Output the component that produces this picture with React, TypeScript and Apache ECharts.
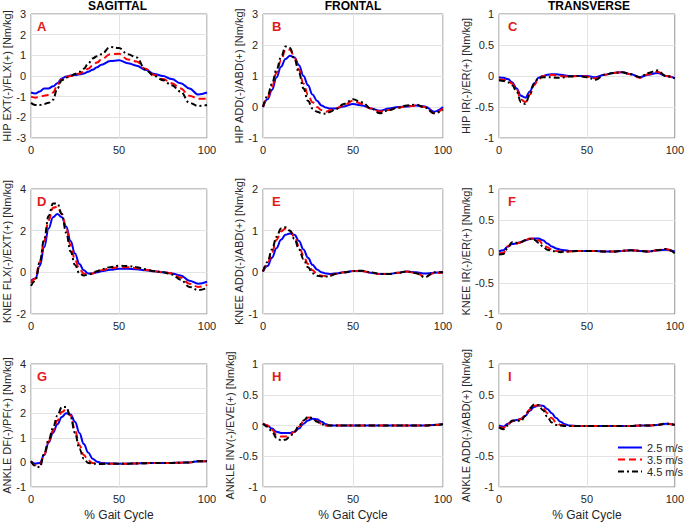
import React, { useEffect, useRef } from "react";
import * as echarts from "echarts";

const X = [0, 2.5, 5, 7.5, 10, 12.5, 15, 17.5, 20, 22.5, 25, 27.5, 30, 32.5, 35, 37.5, 40, 45, 50, 55, 60, 65, 70, 75, 80, 85, 90, 95, 100];
const SPEEDS = ["2.5 m/s", "3.5 m/s", "4.5 m/s"];
const COLUMN_TITLES = ["SAGITTAL", "FRONTAL", "TRANSVERSE"];
const LETTERS = ["A", "B", "C", "D", "E", "F", "G", "H", "I"];
const Y_NAMES = [
  "HIP EXT(-)/FLX(+) [Nm/kg]",
  "HIP ADD(-)/ABD(+) [Nm/kg]",
  "HIP IR(-)/ER(+) [Nm/kg]",
  "KNEE FLX(-)/EXT(+) [Nm/kg]",
  "KNEE ADD(-)/ABD(+) [Nm/kg]",
  "KNEE IR(-)/ER(+) [Nm/kg]",
  "ANKLE DF(-)/PF(+) [Nm/kg]",
  "ANKLE INV(-)/EVE(+) [Nm/kg]",
  "ANKLE ADD(-)/ABD(+) [Nm/kg]",
];
const Y_MIN = [-3, -1, -1, -2, -1, -1, -1, -1, -1];
const Y_MAX = [3, 3, 1, 4, 2, 1, 4, 1, 1];
const Y_STEP = [1, 1, 0.5, 2, 1, 0.5, 1, 0.5, 0.5];
const X_NAME = "% Gait Cycle";

// A: hip sagittal
const A_25 = [-0.8, -0.85, -0.75, -0.6, -0.6, -0.5, -0.35, -0.12, -0.03, 0.02, 0.05, 0.08, 0.12, 0.2, 0.3, 0.42, 0.55, 0.72, 0.76, 0.62, 0.5, 0.3, 0.1, 0.0, -0.15, -0.35, -0.6, -0.9, -0.8];
const A_35 = [-1.0, -1.05, -1.0, -0.95, -0.92, -0.8, -0.45, -0.15, -0.05, 0.0, 0.05, 0.12, 0.2, 0.35, 0.5, 0.65, 0.8, 1.05, 1.08, 0.8, 0.7, 0.35, 0.05, -0.15, -0.35, -0.6, -0.95, -1.1, -1.1];
const A_45 = [-1.3, -1.4, -1.4, -1.35, -1.3, -1.15, -0.6, -0.2, -0.08, 0.0, 0.1, 0.2, 0.35, 0.6, 0.85, 0.95, 1.05, 1.4, 1.35, 1.05, 0.9, 0.3, 0.0, -0.2, -0.45, -0.75, -1.3, -1.45, -1.4];
// B: hip frontal
const B_25 = [0, 0.25, 0.55, 0.95, 1.3, 1.55, 1.65, 1.6, 1.35, 1.0, 0.7, 0.4, 0.2, 0.05, -0.02, -0.05, -0.05, 0.02, 0.1, 0.05, -0.05, -0.12, -0.05, 0.0, 0.02, 0.05, 0.02, -0.15, 0.0];
const B_35 = [0, 0.3, 0.65, 1.1, 1.5, 1.85, 1.85, 1.6, 1.2, 0.75, 0.4, 0.15, 0.0, -0.1, -0.15, -0.1, -0.05, 0.05, 0.2, 0.1, -0.05, -0.15, -0.1, -0.02, 0.02, 0.05, 0.0, -0.2, -0.05];
const B_45 = [0, 0.35, 0.75, 1.2, 1.6, 1.95, 1.9, 1.55, 1.1, 0.6, 0.2, -0.05, -0.15, -0.2, -0.22, -0.15, -0.08, 0.1, 0.25, 0.15, -0.05, -0.2, -0.1, -0.02, 0.05, 0.08, -0.02, -0.2, -0.1];
// C: hip transverse
const C_25 = [-0.02, -0.03, -0.05, -0.1, -0.2, -0.32, -0.35, -0.25, -0.12, -0.03, 0.0, 0.02, 0.03, 0.03, 0.02, 0.01, 0.0, 0.0, 0.0, -0.02, 0.02, 0.05, 0.06, 0.03, -0.02, 0.02, 0.05, 0.0, -0.03];
const C_35 = [-0.05, -0.06, -0.08, -0.12, -0.22, -0.38, -0.42, -0.3, -0.15, -0.05, 0.0, 0.01, 0.02, 0.01, 0.0, -0.01, -0.01, 0.0, -0.01, -0.04, 0.02, 0.05, 0.06, 0.03, -0.03, 0.03, 0.07, 0.0, -0.04];
const C_45 = [-0.07, -0.08, -0.1, -0.15, -0.25, -0.42, -0.45, -0.3, -0.12, -0.03, -0.02, -0.02, -0.02, -0.03, -0.03, -0.02, -0.01, 0.0, -0.02, -0.06, 0.02, 0.05, 0.06, 0.03, -0.02, 0.05, 0.09, 0.0, -0.04];
// D: knee sagittal
const D_25 = [-0.4, -0.3, 0.3, 1.2, 2.1, 2.65, 2.8, 2.65, 2.2, 1.5, 0.9, 0.4, 0.1, -0.05, -0.05, 0.0, 0.05, 0.12, 0.17, 0.17, 0.15, 0.1, 0.05, 0.0, -0.05, -0.15, -0.4, -0.55, -0.45];
const D_35 = [-0.5, -0.3, 0.5, 1.5, 2.5, 3.1, 3.15, 2.8, 2.1, 1.3, 0.6, 0.15, -0.05, -0.1, -0.05, 0.05, 0.1, 0.2, 0.25, 0.25, 0.2, 0.12, 0.05, 0.0, -0.05, -0.25, -0.55, -0.7, -0.6];
const D_45 = [-0.65, -0.4, 0.5, 1.6, 2.7, 3.3, 3.3, 2.8, 1.9, 1.0, 0.35, -0.05, -0.15, -0.12, -0.05, 0.05, 0.15, 0.25, 0.32, 0.3, 0.25, 0.15, 0.05, 0.0, -0.1, -0.35, -0.7, -0.85, -0.75];
// E: knee frontal
const E_25 = [0.02, 0.15, 0.35, 0.58, 0.78, 0.9, 0.93, 0.9, 0.75, 0.55, 0.35, 0.18, 0.07, 0.0, -0.03, -0.04, -0.03, 0.0, 0.03, 0.03, -0.01, -0.04, -0.04, -0.01, 0.02, 0.0, -0.03, -0.01, 0.0];
const E_35 = [0.02, 0.2, 0.48, 0.78, 0.98, 1.05, 1.0, 0.85, 0.62, 0.4, 0.2, 0.05, -0.04, -0.08, -0.09, -0.07, -0.04, 0.0, 0.03, 0.03, -0.01, -0.04, -0.04, -0.01, 0.02, -0.02, -0.1, -0.02, 0.0];
const E_45 = [0.02, 0.25, 0.55, 0.85, 1.05, 1.08, 1.0, 0.8, 0.55, 0.32, 0.12, -0.02, -0.08, -0.1, -0.1, -0.08, -0.04, 0.0, 0.03, 0.04, 0.0, -0.04, -0.04, -0.01, 0.02, -0.02, -0.12, 0.0, 0.0];
// F: knee transverse
const F_25 = [0.0, 0.02, 0.08, 0.12, 0.13, 0.15, 0.18, 0.2, 0.21, 0.21, 0.18, 0.13, 0.08, 0.05, 0.03, 0.02, 0.01, 0.01, 0.01, 0.01, 0.0, 0.0, 0.01, 0.02, 0.01, 0.0, 0.02, 0.03, 0.0];
const F_35 = [-0.03, -0.02, 0.08, 0.14, 0.13, 0.15, 0.18, 0.21, 0.21, 0.18, 0.12, 0.07, 0.03, 0.01, 0.0, 0.0, 0.0, 0.01, 0.01, 0.01, 0.0, 0.0, 0.01, 0.02, 0.01, 0.0, 0.02, 0.04, -0.02];
const F_45 = [-0.05, -0.04, 0.06, 0.15, 0.14, 0.15, 0.18, 0.2, 0.19, 0.14, 0.08, 0.03, 0.01, 0.0, -0.01, 0.0, 0.0, 0.01, 0.01, 0.01, 0.0, 0.0, 0.01, 0.02, 0.01, 0.0, 0.02, 0.04, -0.03];
// G: ankle sagittal
const G_25 = [0.05, -0.05, -0.02, 0.3, 0.8, 1.2, 1.55, 1.85, 2.0, 1.95, 1.65, 1.2, 0.75, 0.4, 0.15, 0.03, -0.02, -0.04, -0.05, -0.05, -0.04, -0.03, -0.02, -0.02, -0.02, -0.01, 0.0, 0.05, 0.05];
const G_35 = [0.05, -0.12, -0.1, 0.3, 0.85, 1.3, 1.7, 2.05, 2.15, 1.9, 1.3, 0.7, 0.3, 0.08, -0.02, -0.05, -0.05, -0.05, -0.05, -0.05, -0.04, -0.03, -0.02, -0.02, -0.02, -0.01, 0.0, 0.05, 0.05];
const G_45 = [0.05, -0.15, -0.2, 0.35, 0.9, 1.4, 1.9, 2.25, 2.25, 1.85, 1.2, 0.55, 0.15, -0.02, -0.05, -0.06, -0.06, -0.05, -0.05, -0.05, -0.04, -0.03, -0.02, -0.02, -0.02, -0.01, 0.0, 0.05, 0.05];
// H: ankle frontal
const H_25 = [0.03, 0.0, -0.05, -0.1, -0.12, -0.12, -0.12, -0.1, -0.05, 0.03, 0.08, 0.11, 0.1, 0.06, 0.02, 0.0, 0.0, 0.0, 0.0, 0.0, 0.0, 0.0, 0.0, 0.0, 0.0, 0.0, 0.0, 0.01, 0.02];
const H_35 = [0.03, 0.0, -0.07, -0.15, -0.18, -0.18, -0.15, -0.1, -0.02, 0.07, 0.13, 0.12, 0.07, 0.03, 0.0, 0.0, 0.0, 0.0, 0.0, 0.0, 0.0, 0.0, 0.0, 0.0, 0.0, 0.0, 0.0, 0.01, 0.02];
const H_45 = [0.03, -0.02, -0.1, -0.2, -0.24, -0.23, -0.18, -0.1, 0.0, 0.08, 0.14, 0.12, 0.06, 0.02, 0.0, 0.0, 0.0, 0.0, 0.0, 0.0, 0.0, 0.0, 0.0, 0.0, 0.0, 0.0, 0.0, 0.01, 0.02];
// I: ankle transverse
const I_25 = [0.0, -0.02, 0.03, 0.07, 0.09, 0.11, 0.16, 0.24, 0.3, 0.33, 0.32, 0.27, 0.2, 0.12, 0.06, 0.02, 0.0, -0.01, -0.01, -0.01, -0.01, -0.01, -0.01, -0.01, 0.0, 0.0, 0.01, 0.03, 0.01];
const I_35 = [-0.02, -0.04, 0.02, 0.07, 0.09, 0.1, 0.17, 0.26, 0.32, 0.33, 0.28, 0.2, 0.12, 0.05, 0.01, 0.0, -0.01, -0.01, -0.01, -0.01, -0.01, -0.01, -0.01, -0.01, 0.0, 0.0, 0.01, 0.03, 0.01];
const I_45 = [-0.03, -0.06, 0.0, 0.08, 0.08, 0.07, 0.16, 0.28, 0.34, 0.33, 0.25, 0.14, 0.05, 0.01, 0.0, -0.01, -0.01, -0.01, -0.01, -0.01, -0.01, -0.01, -0.01, -0.01, 0.0, 0.0, 0.01, 0.03, 0.01];

const PANEL_DATA = [
  [A_25, A_35, A_45],
  [B_25, B_35, B_45],
  [C_25, C_35, C_45],
  [D_25, D_35, D_45],
  [E_25, E_35, E_45],
  [F_25, F_35, F_45],
  [G_25, G_35, G_45],
  [H_25, H_35, H_45],
  [I_25, I_35, I_45],
];

const FONT = "'Liberation Sans', Arial, Helvetica, sans-serif";
const COL_LEFT = [28, 263, 499];
const COL_WIDTH = [179, 180, 180];
const ROW_TOP = [14, 189, 364];
const ROW_HEIGHT = [124, 125, 125];
const NAME_GAP = [19, 19, 27, 19, 19, 27, 19, 27, 27];
const LINE_COLORS = ["#0000FF", "#FF0000", "#000000"];
const LINE_TYPES: any[] = ["solid", [7, 4], [6, 3, 2, 3]];

export default function App() {
  const ref = useRef<HTMLDivElement>(null);
  useEffect(() => {
    if (!ref.current) return;
    const chart = echarts.init(ref.current, undefined, { renderer: "svg" });
    const grids: any[] = [];
    const xAxes: any[] = [];
    const yAxes: any[] = [];
    const series: any[] = [];
    const graphics: any[] = [];
    for (let p = 0; p < 9; p++) {
      const r = Math.floor(p / 3);
      const c = p % 3;
      grids.push({
        left: COL_LEFT[c],
        top: ROW_TOP[r],
        width: COL_WIDTH[c],
        height: ROW_HEIGHT[r],
        show: true,
        borderColor: "#8c8c8c",
        borderWidth: 1,
        backgroundColor: "#ffffff",
      });
      xAxes.push({
        type: "value",
        gridIndex: p,
        min: 0,
        max: 100,
        interval: 50,
        name: r === 2 ? X_NAME : "",
        nameLocation: "middle",
        nameGap: 22,
        nameTextStyle: { color: "#262626", fontSize: 12, fontFamily: FONT },
        axisLine: { show: false },
        axisTick: { show: false },
        axisLabel: { color: "#262626", fontSize: 11, fontFamily: FONT, margin: 6, showMinLabel: true, showMaxLabel: true },
        splitLine: { show: true, lineStyle: { color: "#e3e3e3", width: 1 } },
      });
      yAxes.push({
        type: "value",
        gridIndex: p,
        min: Y_MIN[p],
        max: Y_MAX[p],
        interval: Y_STEP[p],
        name: Y_NAMES[p],
        nameLocation: "middle",
        nameGap: NAME_GAP[p],
        nameRotate: 90,
        nameTextStyle: { color: "#262626", fontSize: 11, fontFamily: FONT },
        axisLine: { show: false },
        axisTick: { show: false },
        axisLabel: { color: "#262626", fontSize: 11, fontFamily: FONT, margin: 5 },
        splitLine: { show: true, lineStyle: { color: "#e3e3e3", width: 1 } },
      });
      for (let s = 0; s < 3; s++) {
        series.push({
          type: "line",
          name: SPEEDS[s],
          xAxisIndex: p,
          yAxisIndex: p,
          data: X.map((x, i) => [x, PANEL_DATA[p][s][i]]),
          smooth: 0.4,
          smoothMonotone: "x",
          symbol: "none",
          showSymbol: false,
          lineStyle: { color: LINE_COLORS[s], width: 2, type: LINE_TYPES[s] },
          itemStyle: { color: LINE_COLORS[s] },
          z: 2 + s,
        });
      }
      graphics.push({
        type: "text",
        left: COL_LEFT[c] + 9,
        top: ROW_TOP[r] + 6,
        style: { text: LETTERS[p], fill: "#E31A1C", font: `bold 13px ${FONT}` },
        z: 10,
      });
    }
    for (let c = 0; c < 3; c++) {
      graphics.push({
        type: "text",
        x: COL_LEFT[c] + COL_WIDTH[c] / 2,
        y: 0,
        style: { text: COLUMN_TITLES[c], fill: "#000000", font: `bold 12px ${FONT}`, textAlign: "center", textVerticalAlign: "top" },
      });
    }
    chart.setOption({
      animation: false,
      backgroundColor: "#ffffff",
      grid: grids,
      xAxis: xAxes,
      yAxis: yAxes,
      series,
      graphic: graphics,
      legend: {
        data: SPEEDS,
        orient: "vertical",
        left: 612,
        top: 437,
        itemWidth: 24,
        itemHeight: 8,
        itemGap: 1,
        selectedMode: false,
        itemStyle: { opacity: 0 },
        textStyle: { color: "#262626", fontSize: 11, fontFamily: FONT },
        backgroundColor: "rgba(255,255,255,0)",
      },
    });
    return () => chart.dispose();
  }, []);
  return <div ref={ref} style={{ position: "fixed", left: 0, top: 0, width: 687, height: 522 }} />;
}
